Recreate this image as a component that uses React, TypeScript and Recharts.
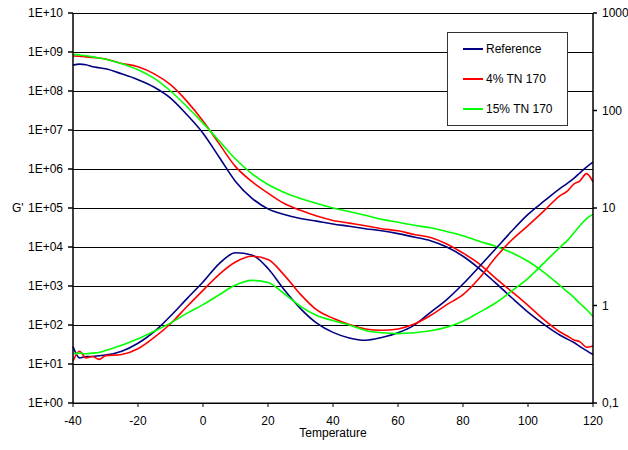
import { LineChart, Line, XAxis, YAxis, CartesianGrid, Legend } from 'recharts';

const FONT = '"Liberation Sans", Arial, sans-serif';

// temperature points
const temps = [
  -40, -38, -36, -34, -32, -30, -25, -20, -15, -10, -5, 0, 5, 10, 15, 20, 25, 30, 35, 40,
  45, 50, 55, 60, 65, 70, 75, 80, 85, 90, 95, 100, 105, 110, 112, 114, 116, 118, 120,
];

// G' (left axis)
const gReference = [
  4.6e8, 4.9e8, 4.7e8, 4.2e8, 3.95e8, 3.7e8, 2.75e8, 1.95e8, 1.25e8, 6.6e7, 2.5e7, 8.3e6, 2.0e6,
  4.8e5, 1.8e5, 9.5e4, 6.8e4, 5.4e4, 4.6e4, 3.9e4, 3.4e4, 2.95e4, 2.6e4, 2.2e4, 1.8e4, 1.45e4,
  1.0e4, 5.8e3, 2.8e3, 1.2e3, 500, 215, 102, 54, 44, 36, 28, 22, 17.5,
];
const gTn4 = [
  7.9e8, 7.8e8, 7.5e8, 7.3e8, 7.0e8, 6.6e8, 5.1e8, 4.2e8, 2.75e8, 1.45e8, 5.5e7, 1.7e7, 4.4e6,
  1.15e6, 4.8e5, 2.4e5, 1.3e5, 8.7e4, 6.2e4, 4.8e4, 4.1e4, 3.5e4, 2.95e4, 2.6e4, 2.1e4, 1.75e4,
  1.2e4, 7.0e3, 3.7e3, 1.6e3, 720, 320, 135, 65, 53, 42, 37, 27, 29,
];
const gTn15 = [
  8.7e8, 8.4e8, 8.0e8, 7.5e8, 7.0e8, 6.5e8, 5.0e8, 3.5e8, 2.1e8, 1.0e8, 4.0e7, 1.5e7, 5.2e6,
  1.8e6, 7.6e5, 4.0e5, 2.5e5, 1.75e5, 1.3e5, 1.0e5, 8.1e4, 6.5e4, 5.1e4, 4.3e4, 3.6e4, 3.1e4,
  2.5e4, 1.95e4, 1.4e4, 1.05e4, 7.1e3, 4.3e3, 2.2e3, 1.0e3, 720, 520, 355, 250, 165,
];

// tan delta (right axis)
const tanReference = [
  0.38, 0.29, 0.3, 0.3, 0.305, 0.31, 0.34, 0.41, 0.54, 0.78, 1.17, 1.74, 2.69, 3.47, 3.3, 2.4,
  1.45, 0.93, 0.66, 0.53, 0.465, 0.44, 0.47, 0.525, 0.63, 0.85, 1.15, 1.66, 2.5, 3.8, 5.8, 8.6,
  11.8, 16, 17.8, 20, 23, 26.3, 29.5,
];
const tanTn4 = [
  0.27, 0.34, 0.29, 0.3, 0.28, 0.305, 0.315, 0.36, 0.47, 0.65, 0.97, 1.43, 2.09, 2.79, 3.2, 2.96,
  2.05, 1.3, 0.9, 0.74, 0.64, 0.575, 0.557, 0.575, 0.645, 0.79, 1.02, 1.29, 1.9, 3.1, 4.7, 6.6,
  9.4, 13.5, 14.8, 17.5, 19, 22.5, 18.5,
];
const tanTn15 = [
  0.32, 0.325, 0.32, 0.325, 0.33, 0.345, 0.39, 0.455, 0.545, 0.66, 0.83, 1.02, 1.29, 1.62, 1.81,
  1.72, 1.32, 0.98, 0.79, 0.7, 0.63, 0.555, 0.525, 0.515, 0.525, 0.55, 0.6, 0.69, 0.85, 1.06,
  1.41, 1.9, 2.75, 4.0, 4.6, 5.5, 6.6, 7.8, 8.6,
];

const xTicks = [-40, -20, 0, 20, 40, 60, 80, 100, 120];
const leftTicks = [1, 10, 1e2, 1e3, 1e4, 1e5, 1e6, 1e7, 1e8, 1e9, 1e10];
const leftTickLabels = ['1E+00', '1E+01', '1E+02', '1E+03', '1E+04', '1E+05', '1E+06', '1E+07', '1E+08', '1E+09', '1E+10'];
const rightTicks = [0.1, 1, 10, 100, 1000];
const rightTickLabels = ['0,1', '1', '10', '100', '1000'];

const seriesNames = ['Reference', '4% TN 170', '15% TN 170'];
const seriesColors = ['#000080', '#ff0000', '#00ff00'];

const data = temps.map((t, i) => ({
  t,
  g0: gReference[i],
  g1: gTn4[i],
  g2: gTn15[i],
  d0: tanReference[i],
  d1: tanTn4[i],
  d2: tanTn15[i],
}));

function LegendBox() {
  return (
    <div
      style={{
        position: 'relative',
        width: 121,
        height: 94,
        boxSizing: 'border-box',
        border: '1px solid #333',
        background: '#fff',
        fontFamily: FONT,
        fontSize: 12,
        color: '#000',
      }}
    >
      {seriesNames.map((name, i) => (
        <div
          key={name}
          style={{ position: 'absolute', left: 15, top: 9 + i * 30, display: 'flex', alignItems: 'center', whiteSpace: 'nowrap' }}
        >
          <span style={{ display: 'inline-block', width: 20, height: 2, background: seriesColors[i], marginRight: 3 }} />
          {name}
        </div>
      ))}
    </div>
  );
}

export default function App() {
  const tick = { fill: '#000', fontSize: 12, fontFamily: FONT };
  return (
    <div style={{ position: 'absolute', left: 0, top: 0, width: 628, height: 450, background: '#fff' }}>
      <LineChart width={628} height={450} data={data} margin={{ top: 13, right: 0, bottom: 0, left: 0 }}>
        <CartesianGrid yAxisId="g" vertical={false} stroke="#000" strokeWidth={1} shapeRendering="crispEdges" />
        <XAxis
          dataKey="t"
          type="number"
          domain={[-40, 120]}
          ticks={xTicks}
          height={47}
          tick={tick}
          tickSize={4}
          tickMargin={9}
          stroke="#000"
          label={{ value: 'Temperature', position: 'insideBottom', offset: 13, fill: '#000', fontSize: 12, fontFamily: FONT }}
        />
        <YAxis
          yAxisId="g"
          scale="log"
          domain={[1, 1e10]}
          allowDataOverflow
          ticks={leftTicks}
          tickFormatter={(v: number) => leftTickLabels[leftTicks.indexOf(v)]}
          width={73}
          tick={tick}
          tickSize={5}
          tickMargin={5}
          stroke="#000"
          strokeWidth={1.5}
          label={{ value: "G'", position: 'insideLeft', offset: 12, fill: '#000', fontSize: 12, fontFamily: FONT }}
        />
        <YAxis
          yAxisId="tan"
          orientation="right"
          scale="log"
          domain={[0.1, 1000]}
          allowDataOverflow
          ticks={rightTicks}
          tickFormatter={(v: number) => rightTickLabels[rightTicks.indexOf(v)]}
          width={35}
          tick={tick}
          tickSize={4}
          tickMargin={5}
          stroke="#000"
          strokeWidth={1.5}
        />
        <Legend
          layout="vertical"
          align="center"
          verticalAlign="middle"
          wrapperStyle={{ left: 447, top: 32, width: 121, height: 94 }}
          content={() => <LegendBox />}
        />
        <Line yAxisId="g" dataKey="g0" stroke={seriesColors[0]} strokeWidth={1.6} dot={false} type="monotone" isAnimationActive={false} />
        <Line yAxisId="g" dataKey="g1" stroke={seriesColors[1]} strokeWidth={1.6} dot={false} type="monotone" isAnimationActive={false} />
        <Line yAxisId="g" dataKey="g2" stroke={seriesColors[2]} strokeWidth={1.6} dot={false} type="monotone" isAnimationActive={false} />
        <Line yAxisId="tan" dataKey="d0" stroke={seriesColors[0]} strokeWidth={1.6} dot={false} type="monotone" isAnimationActive={false} />
        <Line yAxisId="tan" dataKey="d1" stroke={seriesColors[1]} strokeWidth={1.6} dot={false} type="monotone" isAnimationActive={false} />
        <Line yAxisId="tan" dataKey="d2" stroke={seriesColors[2]} strokeWidth={1.6} dot={false} type="monotone" isAnimationActive={false} />
      </LineChart>
    </div>
  );
}
